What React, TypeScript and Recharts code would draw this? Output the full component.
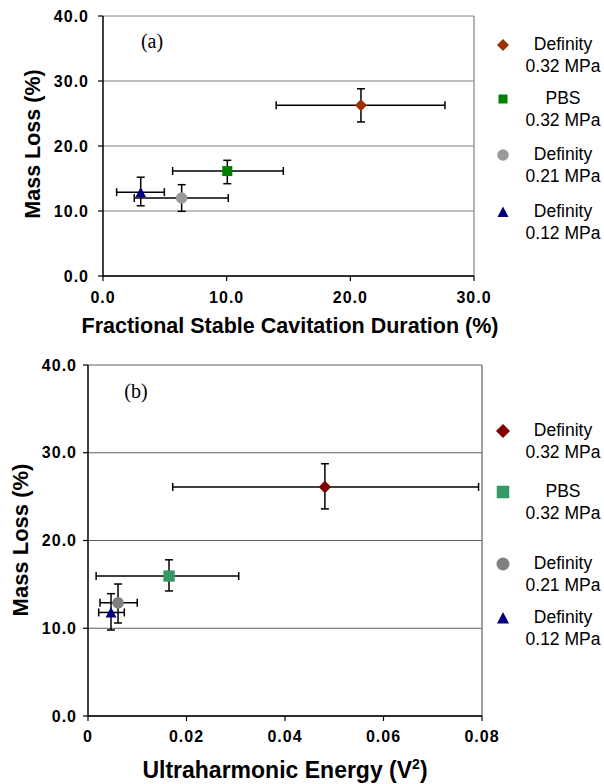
import React from "react";
import { ScatterChart, Scatter, XAxis, YAxis, CartesianGrid, ErrorBar, ReferenceLine } from "recharts";

const seriesLabels = [
  ["Definity", "0.32 MPa"],
  ["PBS", "0.32 MPa"],
  ["Definity", "0.21 MPa"],
  ["Definity", "0.12 MPa"],
];
const markerKinds = ["diamond", "square", "circle", "triangle"];
const lossTicks = [0, 10, 20, 30, 40];

// panel (a): fractional stable cavitation duration
const durationX = [20.86, 10.05, 6.36, 3.05];
const durationXErr = [[6.86, 6.79], [4.42, 4.53], [3.83, 3.77], [1.95, 1.91]];
const lossA = [26.26, 16.15, 12.0, 12.9];
const lossAErr = [[2.56, 2.54], [1.95, 1.65], [2.05, 2.05], [2.1, 2.3]];
const colorsA = ["#993300", "#008000", "#999999", "#000080"];
const durationTicks = [0, 10, 20, 30];

// panel (b): ultraharmonic energy
const energyX = [0.0481, 0.01645, 0.0061, 0.00467];
const energyXErr = [[0.0309, 0.0312], [0.0148, 0.01415], [0.00366, 0.0039], [0.0025, 0.0027]];
const lossB = [26.1, 15.95, 12.9, 11.8];
const lossBErr = [[2.5, 2.65], [1.7, 1.85], [2.3, 2.14], [2.0, 2.14]];
const colorsB = ["#800000", "#339966", "#808080", "#000080"];
const energyTicks = [0, 0.02, 0.04, 0.06, 0.08];

const SANS = "'Liberation Sans', Arial, sans-serif";
const SERIF = "'Liberation Serif', 'Times New Roman', serif";

function markerPath(kind: string, cx: number, cy: number, s: number, color: string) {
  const h = s / 2;
  if (kind === "diamond")
    return <polygon points={`${cx},${cy - h} ${cx + h},${cy} ${cx},${cy + h} ${cx - h},${cy}`} fill={color} />;
  if (kind === "square") return <rect x={cx - h} y={cy - h} width={s} height={s} fill={color} />;
  if (kind === "circle") return <circle cx={cx} cy={cy} r={h} fill={color} />;
  return <polygon points={`${cx},${cy - h} ${cx + h},${cy + h * 0.9} ${cx - h},${cy + h * 0.9}`} fill={color} />;
}

function Legend({ ys, colors, sizes }: { ys: number[]; colors: string[]; sizes: number[] }) {
  return (
    <>
      {seriesLabels.map((lines, i) => (
        <React.Fragment key={i}>
          <svg style={{ position: "absolute", left: 493, top: ys[i] - 10 }} width={20} height={20}>
            {markerPath(markerKinds[i], 10, 10, sizes[i], colors[i])}
          </svg>
          <div
            style={{
              position: "absolute", left: 503, top: ys[i] - 11, width: 120, textAlign: "center",
              fontFamily: SANS, fontSize: 17.5, lineHeight: "21.5px", color: "#000",
            }}
          >
            {lines[0]}
            <br />
            {lines[1]}
          </div>
        </React.Fragment>
      ))}
    </>
  );
}

interface PanelProps {
  top: number;
  height: number;
  margin: { top: number; right: number; bottom: number; left: number };
  xs: number[];
  xErr: number[][];
  ys: number[];
  yErr: number[][];
  colors: string[];
  xTicks: number[];
  xFmt: (v: number) => string;
  sizes: number[];
  grid: string;
  yTickMargin: number;
  xTickMargin: number;
}

function Panel(p: PanelProps) {
  const tickStyle = { fill: "#000", fontSize: 16, fontWeight: "bold", fontFamily: SANS, letterSpacing: 1 };
  const xMax = p.xTicks[p.xTicks.length - 1];
  return (
    <div style={{ position: "absolute", left: 0, top: p.top }}>
      <ScatterChart width={604} height={p.height} margin={p.margin}>
        <CartesianGrid vertical={false} stroke={p.grid} />
        <XAxis
          type="number" dataKey="x" domain={[0, xMax]} ticks={p.xTicks} tickFormatter={p.xFmt}
          height={30} tickSize={5} tickMargin={p.xTickMargin} tick={tickStyle}
          axisLine={{ stroke: "#000", strokeWidth: 1.5 }} tickLine={{ stroke: "#000", strokeWidth: 1.2 }}
        />
        <YAxis
          type="number" dataKey="y" domain={[0, 40]} ticks={lossTicks} tickFormatter={(v: number) => v.toFixed(1)}
          width={60} tickSize={5} tickMargin={p.yTickMargin} tick={tickStyle}
          axisLine={{ stroke: "#000", strokeWidth: 1.5 }} tickLine={{ stroke: "#000", strokeWidth: 1.2 }}
        />
        <ReferenceLine x={xMax} stroke={p.grid} strokeWidth={1.2} />
        {p.xs.map((x, i) => (
          <Scatter
            key={i}
            data={[{ x, y: p.ys[i], ex: p.xErr[i], ey: p.yErr[i] }]}
            isAnimationActive={false}
            shape={(s: any) => markerPath(markerKinds[i], s.cx, s.cy, p.sizes[i], p.colors[i])}
          >
            <ErrorBar dataKey="ex" direction="x" width={4} stroke="#000" strokeWidth={1.5} isAnimationActive={false} />
            <ErrorBar dataKey="ey" direction="y" width={4} stroke="#000" strokeWidth={1.5} isAnimationActive={false} />
          </Scatter>
        ))}
      </ScatterChart>
    </div>
  );
}

const titleStyle: React.CSSProperties = {
  position: "absolute", fontFamily: SANS, fontWeight: "bold", color: "#000", textAlign: "center", whiteSpace: "nowrap",
};

export default function App() {
  return (
    <div style={{ position: "absolute", left: 0, top: 0, width: 604, height: 784, background: "#fff" }}>
      <Panel
        top={0} height={340} margin={{ top: 16, right: 130, bottom: 34, left: 43 }}
        xs={durationX} xErr={durationXErr} ys={lossA} yErr={lossAErr} colors={colorsA}
        xTicks={durationTicks} xFmt={(v) => v.toFixed(1)} sizes={[12, 10, 11.5, 10.5]}
        grid="#808080" yTickMargin={9} xTickMargin={11}
      />
      <Panel
        top={340} height={444} margin={{ top: 25, right: 122, bottom: 38, left: 28 }}
        xs={energyX} xErr={energyXErr} ys={lossB} yErr={lossBErr} colors={colorsB}
        xTicks={energyTicks} xFmt={(v) => (v === 0 ? "0" : v.toFixed(2))} sizes={[12.5, 11.3, 11.7, 11]}
        grid="#606060" yTickMargin={6} xTickMargin={10}
      />

      <div style={{ position: "absolute", left: 122, top: 30, width: 60, textAlign: "center", fontFamily: SERIF, fontSize: 20, lineHeight: "22px" }}>(a)</div>
      <div style={{ position: "absolute", left: 106, top: 380, width: 60, textAlign: "center", fontFamily: SERIF, fontSize: 20, lineHeight: "22px" }}>(b)</div>

      <div style={{ ...titleStyle, left: 20, top: 315, width: 540, fontSize: 21.5, lineHeight: "22px" }}>
        Fractional Stable Cavitation Duration (%)
      </div>
      <div style={{ ...titleStyle, left: 32.5 - 100, top: 144 - 11, width: 200, fontSize: 21.5, lineHeight: "22px", transform: "rotate(-90deg)" }}>
        Mass Loss (%)
      </div>
      <div style={{ ...titleStyle, left: 35, top: 759, width: 500, fontSize: 23, lineHeight: "22px" }}>
        Ultraharmonic Energy (V<sup style={{ fontSize: 14, lineHeight: 0 }}>2</sup>)
      </div>
      <div style={{ ...titleStyle, left: 21 - 100, top: 540 - 11, width: 200, fontSize: 22, lineHeight: "22px", transform: "rotate(-90deg)" }}>
        Mass Loss (%)
      </div>

      <Legend ys={[45, 99, 155, 212]} colors={colorsA} sizes={[12, 9, 11.5, 11]} />
      <Legend ys={[431, 492, 564, 618]} colors={colorsB} sizes={[14, 12.5, 13, 12]} />
    </div>
  );
}
